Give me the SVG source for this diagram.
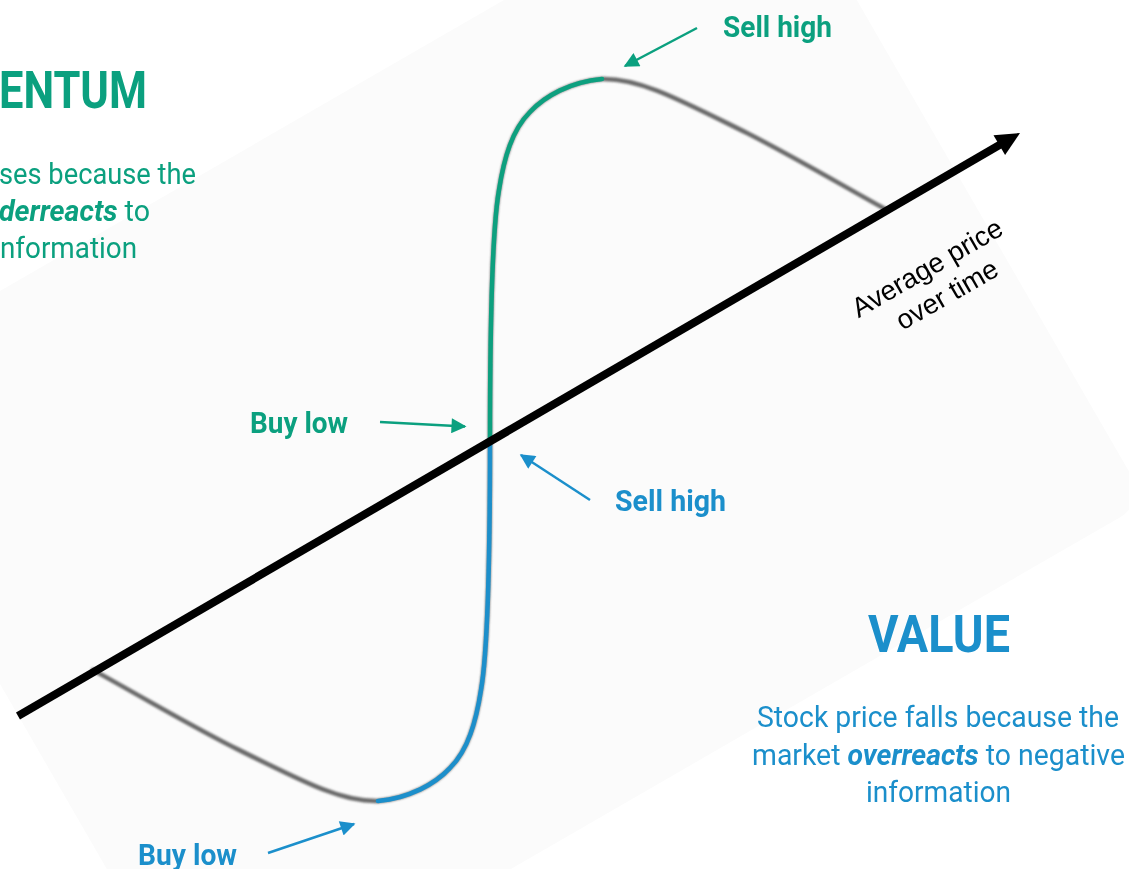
<svg xmlns="http://www.w3.org/2000/svg" width="1129" height="869" viewBox="0 0 1129 869">
  <style>
    .panel { fill: #fbfbfb; }
    .curve-base { fill: none; stroke: #6a6a6a; stroke-width: 4.5; stroke-linecap: round; }
    .curve-up { fill: none; stroke: #0ba07f; stroke-width: 4.5; stroke-linecap: round; }
    .curve-down { fill: none; stroke: #1b8fcb; stroke-width: 4.5; stroke-linecap: round; }
    .axis { fill: none; stroke: #000; stroke-width: 8; }
    .ptr-green { fill: none; stroke: #0ba07f; stroke-width: 2.5; }
    .ptr-blue { fill: none; stroke: #1b8fcb; stroke-width: 2.5; }
    .green { fill: #0ba07f; }
    .blue { fill: #1b8fcb; }
    .head { font-family: Roboto, "Liberation Sans", sans-serif; font-weight: 700; font-size: 52px; }
    .label { font-family: Roboto, "Liberation Sans", sans-serif; font-weight: 700; font-size: 30px; }
    .desc { font-family: Roboto, "Liberation Sans", sans-serif; font-weight: 400; font-size: 30px; }
    .em { font-weight: 700; font-style: italic; }
    .axis-label { font-family: "Liberation Sans", Arial, sans-serif; font-size: 27.5px; fill: #000; }
  </style>
  <defs>
    <filter id="soft" x="-10%" y="-10%" width="120%" height="120%">
      <feGaussianBlur stdDeviation="0.9"/>
    </filter>
    <filter id="soft-light" x="-10%" y="-10%" width="120%" height="120%">
      <feGaussianBlur stdDeviation="0.5"/>
    </filter>
    <marker id="tip-green" viewBox="0 0 10 10" refX="9" refY="5" markerWidth="6.5" markerHeight="6" orient="auto" markerUnits="strokeWidth">
      <path d="M0,0 L10,5 L0,10 z" fill="#0ba07f"/>
    </marker>
    <marker id="tip-blue" viewBox="0 0 10 10" refX="9" refY="5" markerWidth="6.5" markerHeight="6" orient="auto" markerUnits="strokeWidth">
      <path d="M0,0 L10,5 L0,10 z" fill="#1b8fcb"/>
    </marker>
    <!-- upper half of the S-curve, from the axis crossing to the right end -->
    <path id="half" d="M490,440 C490,330 492,230 499,190 C504,158 512,130 530,112 C545,96 570,82 602,79 C640,78 680,100 747,133 C800,160 850,190 887,210"/>
    <!-- rising leg only, from the axis crossing to the peak -->
    <path id="leg" d="M490,440 C490,330 492,230 499,190 C504,158 512,130 530,112 C545,96 570,82 602,79"/>
  </defs>

  <!-- tilted backdrop panel -->
  <rect class="panel" x="-342" y="252" width="1084" height="756" rx="30" transform="rotate(-30)"/>

  <!-- price curve -->
  <g id="price-curve">
    <g filter="url(#soft)">
      <use href="#half" class="curve-base"/>
      <use href="#half" class="curve-base" transform="rotate(180 490 440)"/>
    </g>
    <g filter="url(#soft-light)">
      <use href="#leg" class="curve-up"/>
      <use href="#leg" class="curve-down" transform="rotate(180 490 440)"/>
    </g>
  </g>

  <!-- average price axis -->
  <g id="axis">
    <line class="axis" x1="18" y1="716" x2="1002" y2="143.5"/>
    <polygon points="1020,133 1005.1,155 993.5,135.2" fill="#000"/>
    <text class="axis-label" text-anchor="middle" transform="translate(935,274) rotate(-30)">
      <tspan x="0" y="0">Average price</tspan>
      <tspan x="0" y="33">over time</tspan>
    </text>
  </g>

  <!-- pointers from the labels to the curve -->
  <g id="connectors">
    <path class="ptr-green" d="M697,28 L625,66" marker-end="url(#tip-green)"/>
    <path class="ptr-green" d="M380,422 L465,426.5" marker-end="url(#tip-green)"/>
    <path class="ptr-blue" d="M590,500 L521,455" marker-end="url(#tip-blue)"/>
    <path class="ptr-blue" d="M268,853 L354,824" marker-end="url(#tip-blue)"/>
  </g>

  <!-- labels -->
  <g id="momentum-sell-high">
    <text class="label green" x="723" y="37" textLength="109" lengthAdjust="spacingAndGlyphs">Sell high</text>
  </g>
  <g id="momentum-buy-low">
    <text class="label green" x="250" y="433" textLength="98" lengthAdjust="spacingAndGlyphs">Buy low</text>
  </g>
  <g id="value-sell-high">
    <text class="label blue" x="615" y="511" textLength="111" lengthAdjust="spacingAndGlyphs">Sell high</text>
  </g>
  <g id="value-buy-low">
    <text class="label blue" x="138" y="865" textLength="99" lengthAdjust="spacingAndGlyphs">Buy low</text>
  </g>

  <!-- momentum block (left edge) -->
  <g id="momentum">
    <text class="head green" x="147" y="108" text-anchor="end" textLength="148" lengthAdjust="spacingAndGlyphs">ENTUM</text>
    <text class="desc green" x="196" y="184" text-anchor="end" textLength="197" lengthAdjust="spacingAndGlyphs">ses because the</text>
    <text class="desc green" x="150" y="221" text-anchor="end" textLength="151" lengthAdjust="spacingAndGlyphs"><tspan class="em">derreacts</tspan> to</text>
    <text class="desc green" x="137" y="258" text-anchor="end" textLength="137" lengthAdjust="spacingAndGlyphs">nformation</text>
  </g>

  <!-- value block (lower right) -->
  <g id="value">
    <text class="head blue" x="939" y="652" text-anchor="middle" textLength="142" lengthAdjust="spacingAndGlyphs">VALUE</text>
    <text class="desc blue" x="938" y="727" text-anchor="middle" textLength="362" lengthAdjust="spacingAndGlyphs">Stock price falls because the</text>
    <text class="desc blue" x="938.5" y="765" text-anchor="middle" textLength="373" lengthAdjust="spacingAndGlyphs">market <tspan class="em">overreacts</tspan> to negative</text>
    <text class="desc blue" x="938.5" y="802" text-anchor="middle" textLength="145" lengthAdjust="spacingAndGlyphs">information</text>
  </g>
</svg>
